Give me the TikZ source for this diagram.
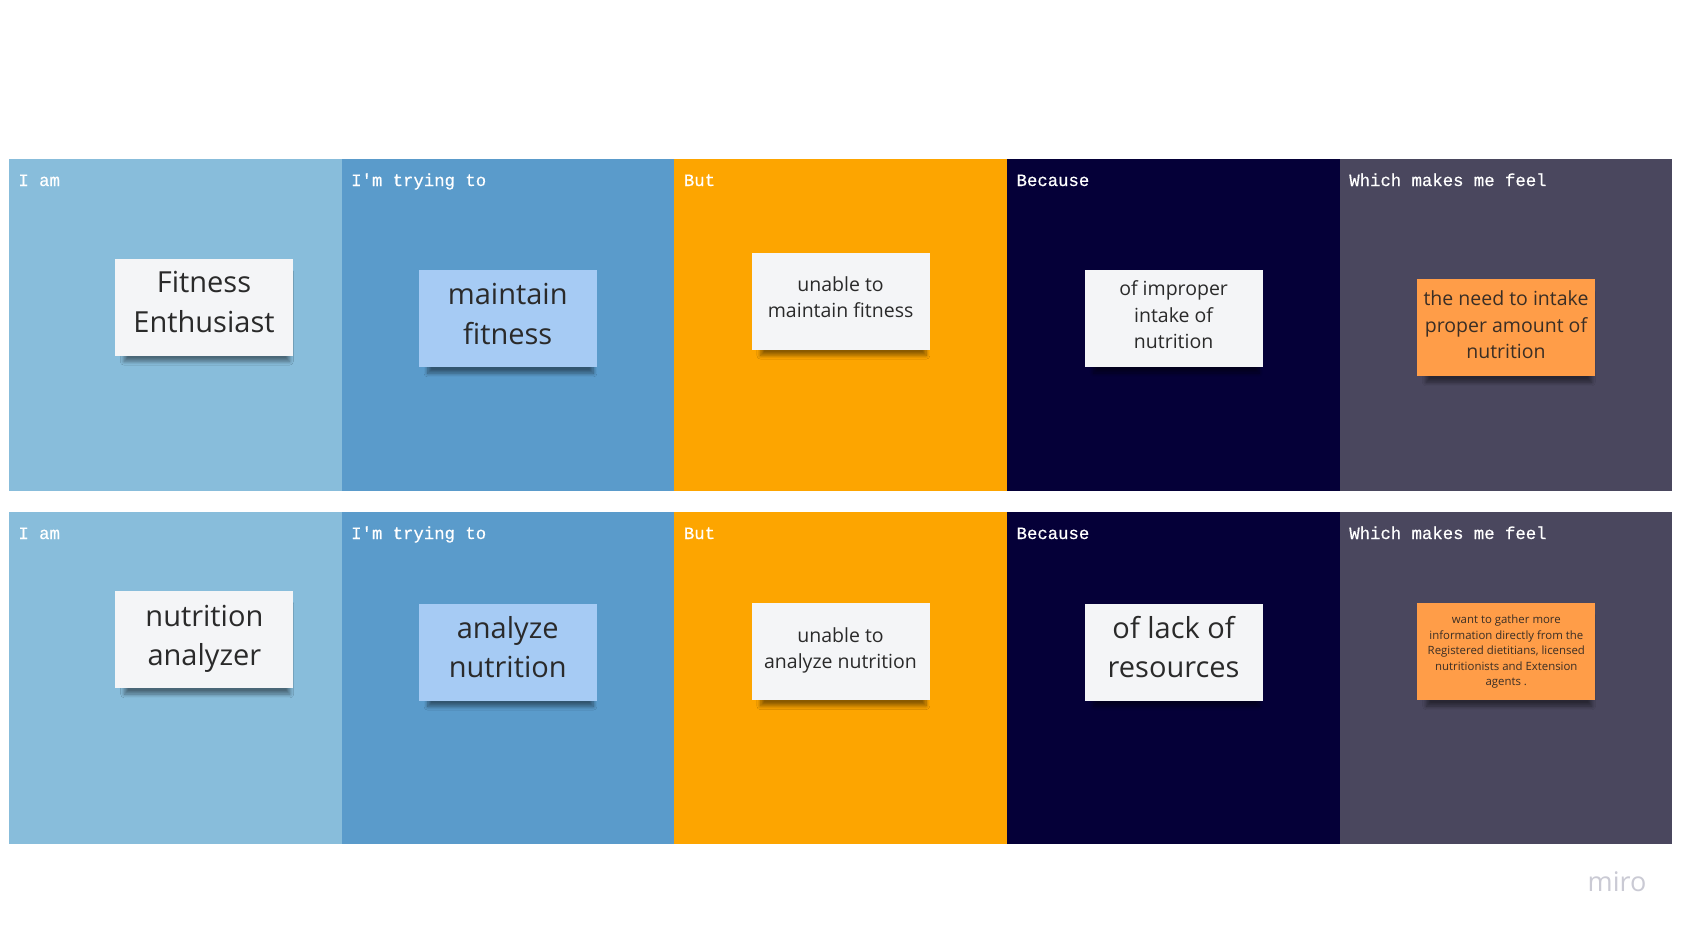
\documentclass[tikz,border=0pt]{standalone}
\usepackage{fontspec}
\setmainfont{Open Sans}
\newfontfamily\hdrfont[FakeBold=0.5]{Liberation Mono}
\usetikzlibrary{shadows.blur}
\definecolor{pA}{HTML}{88BDDB}
\definecolor{pB}{HTML}{5A9BCB}
\definecolor{pC}{HTML}{FDA500}
\definecolor{pD}{HTML}{050038}
\definecolor{pE}{HTML}{4A475E}
\definecolor{stW}{HTML}{F4F5F7}
\definecolor{stB}{HTML}{A6CBF4}
\definecolor{stO}{HTML}{FF9D48}
\definecolor{txt}{HTML}{2A2A2A}
\definecolor{txtO}{HTML}{3A2E25}
\definecolor{miroc}{HTML}{CACAD4}
\begin{document}
\begin{tikzpicture}[x=1pt,y=-1pt,
  panel/.style={draw=none,minimum width=332.7pt,minimum height=331.5pt,inner sep=0pt,anchor=north west},
  hdr/.style={anchor=base west,text=white,inner sep=0pt,font=\hdrfont\fontsize{17.3}{20}\selectfont},
  sticky/.style={minimum width=178pt,minimum height=97pt,inner sep=0pt,
    blur shadow={shadow xshift=3pt,shadow yshift=-10pt,shadow opacity=45,shadow scale=0.93,shadow blur steps=10,shadow blur radius=4pt}},
  stext/.style={inner sep=0pt,align=center,text=txt},
  big/.style={stext,yshift=5pt,font=\fontsize{29}{39.5}\selectfont},
  mid/.style={stext,yshift=4pt,font=\fontsize{19.5}{26.5}\selectfont},
  tiny/.style={stext,font=\fontsize{11.4}{15.5}\selectfont,text=txtO}]
\useasboundingbox[fill=white] (0,0) rectangle (1683,928);
% panels row 1
\node[panel,fill=pA] (r1a) at (8.6,159) {};
\node[panel,fill=pB] (r1b) at (341.3,159) {};
\node[panel,fill=pC] (r1c) at (674,159) {};
\node[panel,fill=pD] (r1d) at (1006.7,159) {};
\node[panel,fill=pE] (r1e) at (1339.4,159) {};
% panels row 2
\node[panel,fill=pA] (r2a) at (8.6,512) {};
\node[panel,fill=pB] (r2b) at (341.3,512) {};
\node[panel,fill=pC] (r2c) at (674,512) {};
\node[panel,fill=pD] (r2d) at (1006.7,512) {};
\node[panel,fill=pE] (r2e) at (1339.4,512) {};
% headers
\node[hdr] (h1a) at (18.2,186) {I am};
\node[hdr] (h1b) at (351,186) {I'm trying to};
\node[hdr] (h1c) at (683.7,186) {But};
\node[hdr] (h1d) at (1016.4,186) {Because};
\node[hdr] (h1e) at (1349.1,186) {Which makes me feel};
\node[hdr] (h2a) at (18.2,539) {I am};
\node[hdr] (h2b) at (351,539) {I'm trying to};
\node[hdr] (h2c) at (683.7,539) {But};
\node[hdr] (h2d) at (1016.4,539) {Because};
\node[hdr] (h2e) at (1349.1,539) {Which makes me feel};
% sticky boxes row 1
\node[sticky,fill=stW] (s1a) at (204,307) {};
\node[sticky,fill=stB] (s1b) at (507.7,318.8) {};
\node[sticky,fill=stW] (s1c) at (840.6,301) {};
\node[sticky,fill=stW] (s1d) at (1173.6,318.7) {};
\node[sticky,fill=stO] (s1e) at (1506,327.8) {};
% sticky boxes row 2
\node[sticky,fill=stW] (s2a) at (204.4,639.7) {};
\node[sticky,fill=stB] (s2b) at (507.7,652) {};
\node[sticky,fill=stW] (s2c) at (840.5,651.5) {};
\node[sticky,fill=stW] (s2d) at (1173.6,652) {};
\node[sticky,fill=stO] (s2e) at (1506.3,651.7) {};
% sticky texts
\node[big] (t1a) at (s1a) {Fitness\\Enthusiast};
\node[big] (t1b) at (s1b) {maintain\\fitness};
\node[mid] (t1c) at (s1c) {unable to\\maintain fitness};
\node[mid] (t1d) at (s1d) {of improper\\intake of\\nutrition};
\node[mid,text=txtO,yshift=-1pt] (t1e) at (s1e) {the need to intake\\proper amount of\\nutrition};
\node[big,yshift=-4pt] (t2a) at (s2a) {nutrition\\analyzer};
\node[big] (t2b) at (s2b) {analyze\\nutrition};
\node[mid,yshift=-3pt] (t2c) at (s2c) {unable to\\analyze nutrition};
\node[big] (t2d) at (s2d) {of lack of\\resources};
\node[tiny] (t2e) at (s2e) {want to gather more\\information directly from the\\Registered dietitians, licensed\\nutritionists and Extension\\agents .};
% logo
\node[anchor=base,text=miroc,inner sep=0pt,font=\fontsize{27}{30}\selectfont] (logo) at (1617,891) {miro};
\end{tikzpicture}
\end{document}
